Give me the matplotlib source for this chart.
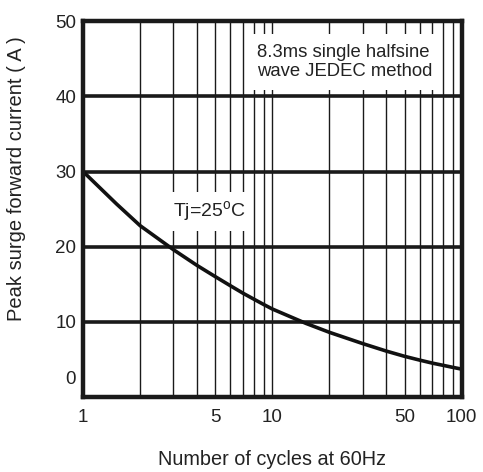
import matplotlib
matplotlib.use("Agg")
import matplotlib.pyplot as plt
from matplotlib.transforms import ScaledTranslation

plt.rcParams['font.family'] = ['Liberation Sans', 'DejaVu Sans']
plt.rcParams['mathtext.fontset'] = 'custom'
plt.rcParams['mathtext.rm'] = 'Liberation Sans'

# curve
cycles = [1, 1.5, 2, 3, 4, 5, 6, 7, 8, 9, 10, 15, 20, 30, 40, 50, 60, 70, 80, 90, 100]
current = [30.0, 25.7, 22.8, 19.6, 17.5, 16.0, 14.8, 13.8, 13.0, 12.3, 11.7, 9.8, 8.6,
           7.1, 6.1, 5.4, 4.9, 4.5, 4.2, 3.93, 3.7]

xticks = [1, 5, 10, 50, 100]
xticklabels = ["1", "5", "10", "50", "100"]
yticks = [0, 10, 20, 30, 40, 50]
hlines = [10, 20, 30, 40]
vlines = [2, 3, 4, 5, 6, 7, 8, 9, 10, 20, 30, 40, 50, 60, 70, 80, 90]

fig = plt.figure(figsize=(4.83, 4.72), dpi=100)
ax = fig.add_axes([0.172, 0.159, 0.784, 0.796])

ax.set_xscale('log')
ax.set_xlim(1, 100)
ax.set_ylim(0, 50)

for v in vlines:
    ax.axvline(v, color='#1a1a1a', lw=1.0, zorder=1)
for h in hlines:
    ax.axhline(h, color='#1a1a1a', lw=2.6, zorder=1)

ax.plot(cycles, current, color='#111111', lw=2.6, zorder=4,
        solid_joinstyle='round', solid_capstyle='butt')

ax.set_xticks(xticks)
ax.set_xticklabels(xticklabels)
ax.minorticks_off()
ax.set_yticks(yticks)
ax.tick_params(length=0, labelsize=13.5, colors='#222222')
ax.tick_params(axis='x', pad=9)
ax.tick_params(axis='y', pad=5)

# the "0" label sits a bit above the axis
lbl = ax.get_yticklabels()[0]
lbl.set_transform(lbl.get_transform() + ScaledTranslation(0, 0.19, fig.dpi_scale_trans))

for s in ax.spines.values():
    s.set_linewidth(3.2)
    s.set_color('#1a1a1a')
    s.set_zorder(5)

ax.text(8.25, 44.6, "8.3ms single halfsine\nwave JEDEC method", fontsize=13.3,
        va='center', ha='left', color='#222222', linespacing=1.15, zorder=3,
        bbox=dict(facecolor='white', edgecolor='none', pad=7))
ax.text(3.0, 24.7, r"Tj=25$^{\mathrm{o}}$C", fontsize=14, va='center', ha='left',
        color='#222222', zorder=3,
        bbox=dict(facecolor='white', edgecolor='none', pad=5))

ax.set_xlabel("Number of cycles at 60Hz", fontsize=14.3, color='#222222', labelpad=17)
ax.set_ylabel("Peak surge forward current ( A )", fontsize=14.5, color='#222222')
ax.yaxis.set_label_coords(-0.15, 0.582)

plt.savefig("out.png", dpi=100)
